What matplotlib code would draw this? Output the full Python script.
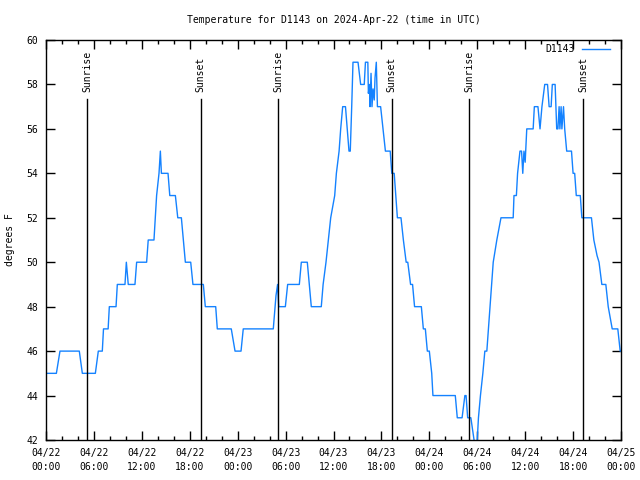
import matplotlib
matplotlib.use('Agg')
import matplotlib.pyplot as plt
import matplotlib.dates as mdates
import pandas as pd

start = pd.Timestamp('2024-04-22 00:00')

# hours after 04/22 00:00 UTC and temperature in F
hours = [0, 1.3, 1.75, 4.17, 4.55, 6.18, 6.55, 7.05, 7.2, 7.78, 7.93, 8.77, 8.93, 9.89,
         10.06, 10.3, 11.14, 11.35, 12.6, 12.8, 13.52, 13.85, 14.15, 14.32, 14.45, 15.28,
         15.5, 16.2, 16.5, 16.95, 17.2, 17.45, 18.12, 18.4, 19.7, 19.95, 21.25, 21.45,
         23.2, 23.67, 24.42, 24.7, 28.46, 28.8, 29.0, 29.14, 29.97, 30.26, 31.72, 31.97,
         32.72, 33.22, 34.47, 34.7, 35.06, 35.35, 35.65, 36.15, 36.36, 36.7, 36.9, 37.15,
         37.5, 37.94, 38.1, 38.28, 38.44, 39.07, 39.4, 39.85, 40.0, 40.3, 40.37, 40.5,
         40.57, 40.7, 40.82, 40.95, 41.1, 41.2, 41.36, 41.5, 41.9, 42.2, 42.5, 43.1,
         43.3, 43.6, 43.8, 44.0, 44.45, 44.75, 45.1, 45.3, 45.65, 45.9, 46.15, 47.0,
         47.25, 47.5, 47.75, 48.0, 48.3, 48.45, 51.25, 51.5, 52.1, 52.45, 52.6, 52.8,
         53.2, 53.6, 53.8, 54.0, 54.15, 54.4, 54.7, 54.95, 55.2, 55.4, 55.6, 55.8,
         56.0, 56.45, 56.97, 58.5, 58.6, 58.9, 59.05, 59.35, 59.55, 59.7, 59.85, 60.0,
         60.2, 61.0, 61.15, 61.6, 61.86, 62.1, 62.45, 62.8, 63.0, 63.25, 63.4, 63.75,
         63.95, 64.1, 64.25, 64.35, 64.5, 64.6, 64.8, 64.95, 65.2, 65.8, 66.0, 66.2,
         66.4, 66.9, 67.1, 68.3, 68.6, 69.0, 69.25, 69.6, 70.1, 70.4, 70.9, 71.6,
         71.9, 72.0]
temps = [45, 45, 46, 46, 45, 45, 46, 46, 47, 47, 48, 48, 49, 49,
         50, 49, 49, 50, 50, 51, 51, 53, 54, 55, 54, 54,
         53, 53, 52, 52, 51, 50, 50, 49, 49, 48, 48, 47,
         47, 46, 46, 47, 47, 48.5, 49, 48, 48, 49, 49, 50,
         50, 48, 48, 49, 50, 51, 52, 53, 54, 55, 56, 57,
         57, 55, 55, 57, 59, 59, 58, 58, 59, 59, 57.6, 58,
         57, 58.5, 57, 57.8, 57.3, 58.3, 59, 57, 57, 56, 55, 55,
         54, 54, 53, 52, 52, 51, 50, 50, 49, 49, 48, 48,
         47, 47, 46, 46, 45, 44, 44, 43, 43, 44, 44, 43,
         43, 42, 41, 42, 43, 44, 45, 46, 46, 47, 48, 49,
         50, 51, 52, 52, 53, 53, 54, 55, 55, 54, 55, 54.5,
         56, 56, 57, 57, 56, 57, 58, 58, 57, 57, 58, 58,
         56, 56, 57, 56, 57, 56, 57, 56, 55, 55, 54, 54,
         53, 53, 52, 52, 51, 50.3, 50, 49, 49, 48, 47, 47,
         46, 46]

sun_names = ['Sunrise', 'Sunset', 'Sunrise', 'Sunset', 'Sunrise', 'Sunset']
sun_times = ['2024-04-22 05:11', '2024-04-22 19:22', '2024-04-23 05:03',
             '2024-04-23 19:17', '2024-04-24 05:01', '2024-04-24 19:17']

times = start + pd.to_timedelta(hours, unit='h')

plt.rcParams['font.family'] = 'DejaVu Sans Mono'
plt.rcParams['font.size'] = 7

fig = plt.figure(figsize=(6.4, 4.8), dpi=100)
ax = fig.add_axes([46/640, 40/480, 575/640, 400/480])

ax.plot(times, temps, color='#1482ff', lw=1.0, label='D1143')

for name, t in zip(sun_names, sun_times):
    t = pd.Timestamp(t)
    ax.plot([t, t], [42, 57.33], color='k', lw=1.0)
    ax.text(t, 57.67, name, rotation=90, ha='center', va='bottom')

ax.set_xlim(start, start + pd.Timedelta(hours=72))
ax.set_ylim(42, 60)
ax.xaxis.set_major_locator(mdates.HourLocator(byhour=[0, 6, 12, 18]))
ax.xaxis.set_minor_locator(mdates.HourLocator(byhour=range(0, 24, 2)))
ax.xaxis.set_major_formatter(mdates.DateFormatter('%m/%d\n%H:%M'))
ax.set_yticks(range(42, 61, 2))
ax.tick_params(which='both', direction='in', top=True, right=True, width=1)
ax.tick_params(which='major', length=6.5, pad=5.5)
ax.tick_params(which='minor', length=3.2)
for s in ax.spines.values():
    s.set_linewidth(1)

ax.set_title('Temperature for D1143 on 2024-Apr-22 (time in UTC)', fontsize=7, pad=12)
fig.text(10/640, 0.5, 'degrees F', rotation=90, ha='center', va='center')

ax.legend(loc='upper right', bbox_to_anchor=(0.98, 0.99), frameon=False,
          markerfirst=False, borderpad=0, borderaxespad=0,
          handlelength=2.84, handletextpad=0.76)

fig.canvas.draw()
for lab in ax.get_xticklabels():
    lab.set_linespacing(1.5)

fig.savefig('out.png', dpi=100)
